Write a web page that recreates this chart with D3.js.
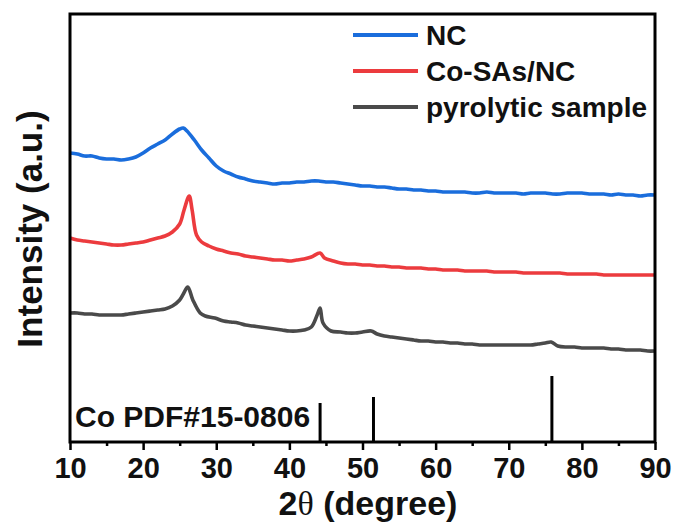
<!DOCTYPE html>
<html>
<head>
<meta charset="utf-8">
<script src="https://cdn.jsdelivr.net/npm/d3@7"></script>
<style>
    body { margin: 0; background: #fff; }
    svg text { font-family: 'Liberation Sans', Arial, sans-serif; font-weight: bold; fill: #111; }
</style>
</head>
<body>
<div id="chart"></div>
<script>
//data: [2theta, intensity (a.u.)]
var ncData = [
    [10,289],[11,288],[12,286],[13,286],[14,284],[15,283],[16,283],[17,282],[18,283],[19,285],
    [20,289],[21,294],[22,298],[23,302],[24,308],[25,313],[25.5,314],[26,311],[27,302],[28,292],
    [29,284],[30,276],[31,271],[32,268],[33,265],[34,263],[35,261],[36,260],[37,259],[38,258],
    [39,259],[40,259],[41,260],[42,260],[43,261],[44,261],[45,260],[46,260],[47,259],[48,258],
    [49,257],[50,256],[51,256],[52,255],[53,255],[54,254],[55,253],[56,253],[57,252],[58,252],
    [59,251],[60,251],[61,250],[62,250],[63,250],[64,250],[65,249],[66,249],[67,250],[68,249],
    [69,249],[70,249],[71,249],[72,248],[73,249],[74,249],[75,249],[76,248],[77,248],[78,249],
    [79,249],[80,249],[81,248],[82,248],[83,248],[84,247],[85,248],[86,247],[87,247],[88,246],
    [89,247],[90,247]
];
var coSAsData = [
    [10,204],[11,202],[12,201],[13,200],[14,199],[15,198],[16,197],[17,197],[18,198],[19,199],
    [20,200],[21,202],[22,204],[23,206],[24,210],[25,218],[25.6,232],[26.3,246],[26.7,232],[27.3,207],
    [28,200],[29,196],[30,193],[31,191],[32,189],[33,188],[34,186],[35,185],[36,184],[37,183],
    [38,182],[39,182],[40,181],[41,182],[42,183],[43,185],[44.2,189],[44.8,184],[46,181],[47,179],
    [48,178],[49,178],[50,177],[51,177],[52,176],[53,176],[54,175],[55,175],[56,174],[57,174],
    [58,174],[59,173],[60,173],[61,172],[62,172],[63,172],[64,171],[65,171],[66,171],[67,171],
    [68,170],[69,170],[70,170],[71,170],[72,169],[73,169],[74,169],[75,169],[76,169],[77,169],
    [78,168],[79,168],[80,168],[81,168],[82,168],[83,167],[84,167],[85,167],[86,167],[87,167],
    [88,167],[89,167],[90,167]
];
var pyroData = [
    [10,129],[11,129],[12,128],[13,128],[14,127],[15,127],[16,127],[17,127],[18,128],[19,129],
    [20,130],[21,131],[22,132],[23,133],[24,136],[25,142],[25.5,148],[26.1,155],[26.8,142],[27.8,129],
    [28.5,126],[29.8,124],[31,121],[32,120],[33,119],[34,117],[35,116],[36,115],[37,114],[38,113],
    [39,112],[40,111],[41,111],[42,112],[43,115],[43.8,127],[44.2,134],[44.6,119],[45.7,111],[47,110],
    [48,109],[49,109],[50,110],[51.2,111],[52,108],[53,106],[54,105],[55,104],[56,103],[57,102],
    [58,101],[59,101],[60,100],[61,100],[62,99],[63,99],[64,98],[65,98],[66,97],[67,97],
    [68,97],[69,97],[70,97],[71,97],[72,97],[73,97],[74,98],[75,99],[75.8,100],[76.7,96],
    [78,95],[79,95],[80,94],[81,94],[82,94],[83,94],[84,93],[85,93],[86,92],[87,92],
    [88,92],[89,91],[90,91]
];

//Co PDF#15-0806 reference lines
var refPeaks = [44.2, 51.5, 75.9];
var refHeights = [39, 45, 66];

var seriesNames = ['NC', 'Co-SAs/NC', 'pyrolytic sample'];
var seriesColors = ['#1a6ddc', '#ec3b3e', '#4a4a4a'];
var xTicks = [10, 20, 30, 40, 50, 60, 70, 80, 90];
var xMinorTicks = [15, 25, 35, 45, 55, 65, 75, 85];

//svg size and plot box
var width = 677;
var height = 529;
var boxL = 70, boxR = 655, boxT = 14, boxB = 442;

var svg = d3.select('#chart').append('svg')
    .attr('width', width)
    .attr('height', height);

var x = d3.scaleLinear().domain([10, 90]).range([boxL, boxR]);
var y = d3.scaleLinear().domain([0, 428]).range([boxB, boxT]);

var line = d3.line()
    .curve(d3.curveCatmullRom.alpha(0.5))
    .x(function(d) { return x(d[0]); })
    .y(function(d) { return y(d[1]); });

//draw the three patterns
var allSeries = [ncData, coSAsData, pyroData];
svg.append('g').selectAll('path')
    .data(allSeries)
    .enter().append('path')
    .attr('d', line)
    .attr('fill', 'none')
    .attr('stroke', function(d, i) { return seriesColors[i]; })
    .attr('stroke-width', 3.6)
    .attr('stroke-linejoin', 'round');

//reference sticks
svg.append('g').selectAll('line')
    .data(refPeaks)
    .enter().append('line')
    .attr('x1', function(d) { return x(d); })
    .attr('x2', function(d) { return x(d); })
    .attr('y1', y(0))
    .attr('y2', function(d, i) { return y(refHeights[i]); })
    .attr('stroke', '#000')
    .attr('stroke-width', 3);

svg.append('text')
    .attr('x', 75)
    .attr('y', 427)
    .style('font-size', '30px')
    .text('Co PDF#15-0806');

//bottom axis, major + minor ticks
svg.append('g')
    .attr('transform', 'translate(0,' + boxB + ')')
    .call(d3.axisBottom(x).tickValues(xMinorTicks).tickSize(4).tickFormat(''))
    .call(function(g) { g.select('.domain').remove(); })
    .selectAll('line').attr('stroke', '#000').attr('stroke-width', 2.5);

var xAxis = svg.append('g')
    .attr('transform', 'translate(0,' + boxB + ')')
    .call(d3.axisBottom(x).tickValues(xTicks).tickSize(8).tickSizeOuter(0));
xAxis.select('.domain').remove();
xAxis.selectAll('line').attr('stroke', '#000').attr('stroke-width', 2.5);
xAxis.selectAll('text')
    .attr('dy', null)
    .attr('y', 36)
    .style('font-size', '29px')
    .style('font-family', "'Liberation Sans', Arial, sans-serif");

//frame
svg.append('rect')
    .attr('x', boxL)
    .attr('y', boxT)
    .attr('width', boxR - boxL)
    .attr('height', boxB - boxT)
    .attr('fill', 'none')
    .attr('stroke', '#000')
    .attr('stroke-width', 3);

//axis titles
var xTitle = svg.append('text')
    .attr('x', 368)
    .attr('y', 515)
    .attr('text-anchor', 'middle')
    .style('font-size', '34px');
xTitle.append('tspan').text('2');
xTitle.append('tspan')
    .style('font-family', "'Liberation Serif', 'Times New Roman', serif")
    .style('font-weight', 'normal')
    .text('\u03B8');
xTitle.append('tspan').text(' (degree)');

svg.append('text')
    .attr('transform', 'translate(42,229) rotate(-90)')
    .attr('text-anchor', 'middle')
    .style('font-size', '35px')
    .text('Intensity (a.u.)');

//legend
var legend = svg.append('g').selectAll('g')
    .data(seriesNames)
    .enter().append('g')
    .attr('transform', function(d, i) { return 'translate(353,' + (35 + i * 36) + ')'; });

legend.append('line')
    .attr('x1', 0)
    .attr('x2', 65)
    .attr('stroke', function(d, i) { return seriesColors[i]; })
    .attr('stroke-width', 4);

legend.append('text')
    .attr('x', 73)
    .attr('y', 10)
    .style('font-size', '28px')
    .text(function(d) { return d; });
</script>
</body>
</html>
